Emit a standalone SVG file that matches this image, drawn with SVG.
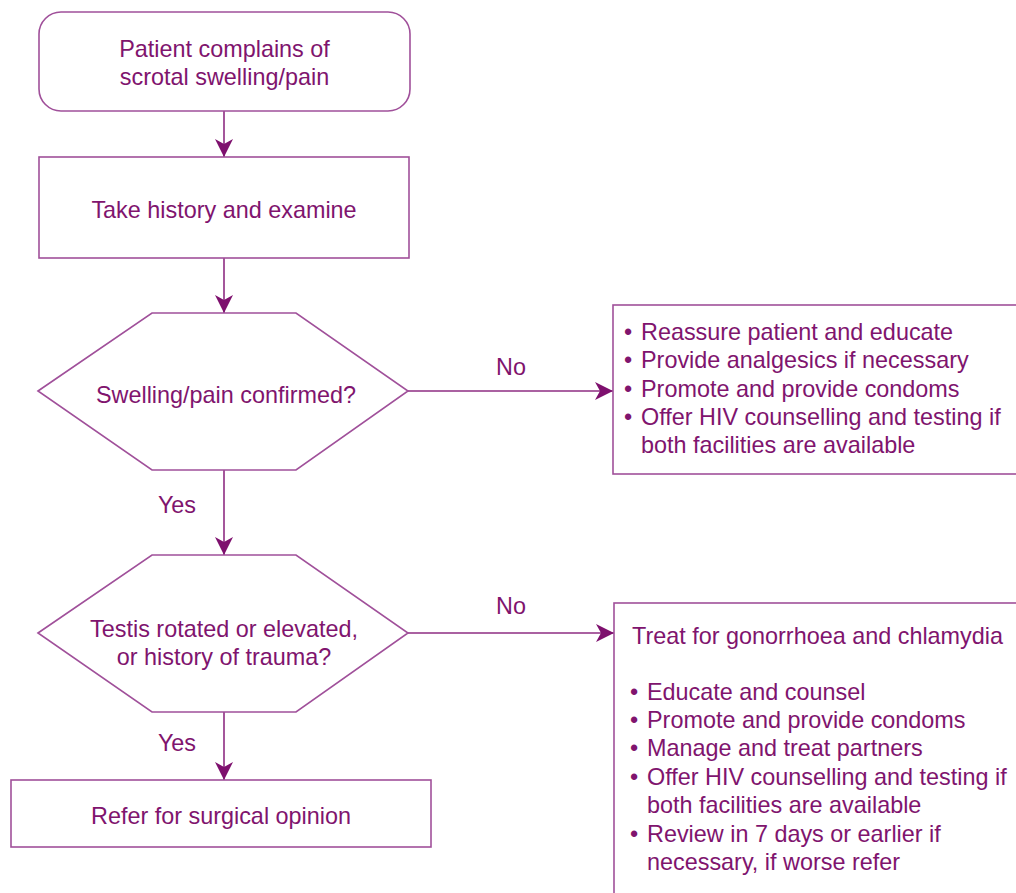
<svg xmlns="http://www.w3.org/2000/svg" width="1016" height="893" viewBox="0 0 1016 893">
<defs>
<marker id="ah" viewBox="-1 -10 20 20" refX="18" refY="0" markerWidth="20" markerHeight="20" markerUnits="userSpaceOnUse" orient="auto">
<path d="M0,-9 L18,0 L0,9 L5,0 Z" fill="#7E106E"/>
</marker>
</defs>
<style>
.shape{fill:#fff;stroke:#A0509A;stroke-width:1.6}
.t{font-family:"Liberation Sans",Arial,sans-serif;font-size:23.4px;fill:#80146E}
.c{text-anchor:middle}
.conn{stroke:#8E2C82;stroke-width:1.6;fill:none;marker-end:url(#ah)}
</style>
<rect width="1016" height="893" fill="#fff"/>
<g id="connectors">
<line class="conn" x1="224" y1="111" x2="224" y2="157"/>
<line class="conn" x1="224" y1="258" x2="224" y2="313"/>
<line class="conn" x1="408" y1="391" x2="613" y2="391"/>
<line class="conn" x1="224" y1="470" x2="224" y2="555"/>
<line class="conn" x1="408" y1="633" x2="614" y2="633"/>
<line class="conn" x1="224" y1="712" x2="224" y2="780"/>
<text class="t c" x="511" y="375">No</text>
<text class="t c" x="177" y="513">Yes</text>
<text class="t c" x="511" y="614">No</text>
<text class="t c" x="177" y="751">Yes</text>
</g>
<g id="start">
<rect class="shape" x="39" y="12" width="371" height="99" rx="22"/>
<text class="t c" x="224.5" y="57">Patient complains of</text>
<text class="t c" x="224.5" y="85">scrotal swelling/pain</text>
</g>
<g id="history">
<rect class="shape" x="39" y="157" width="370" height="101"/>
<text class="t c" x="224" y="218">Take history and examine</text>
</g>
<g id="confirmed">
<polygon class="shape" points="38,391 152,313 296,313 408,391 296,470 152,470"/>
<text class="t c" x="226" y="403">Swelling/pain confirmed?</text>
</g>
<g id="reassure">
<rect class="shape" x="613" y="305" width="420" height="169"/>
<text class="t" x="624" y="340">•</text>
<text class="t" x="641" y="340">Reassure patient and educate</text>
<text class="t" x="624" y="368">•</text>
<text class="t" x="641" y="368">Provide analgesics if necessary</text>
<text class="t" x="624" y="397">•</text>
<text class="t" x="641" y="397">Promote and provide condoms</text>
<text class="t" x="624" y="425">•</text>
<text class="t" x="641" y="425">Offer HIV counselling and testing if</text>
<text class="t" x="641" y="453">both facilities are available</text>
</g>
<g id="testis">
<polygon class="shape" points="38,633 152,555 296,555 408,633 296,712 152,712"/>
<text class="t c" x="224" y="637">Testis rotated or elevated,</text>
<text class="t c" x="224" y="665">or history of trauma?</text>
</g>
<g id="treat">
<rect class="shape" x="614" y="603" width="420" height="300"/>
<text class="t" x="632" y="644">Treat for gonorrhoea and chlamydia</text>
<text class="t" x="630" y="700">•</text>
<text class="t" x="647" y="700">Educate and counsel</text>
<text class="t" x="630" y="728">•</text>
<text class="t" x="647" y="728">Promote and provide condoms</text>
<text class="t" x="630" y="756">•</text>
<text class="t" x="647" y="756">Manage and treat partners</text>
<text class="t" x="630" y="785">•</text>
<text class="t" x="647" y="785">Offer HIV counselling and testing if</text>
<text class="t" x="647" y="813">both facilities are available</text>
<text class="t" x="630" y="842">•</text>
<text class="t" x="647" y="842">Review in 7 days or earlier if</text>
<text class="t" x="647" y="870">necessary, if worse refer</text>
</g>
<g id="refer">
<rect class="shape" x="11" y="780" width="420" height="67"/>
<text class="t c" x="221" y="824">Refer for surgical opinion</text>
</g>
</svg>
